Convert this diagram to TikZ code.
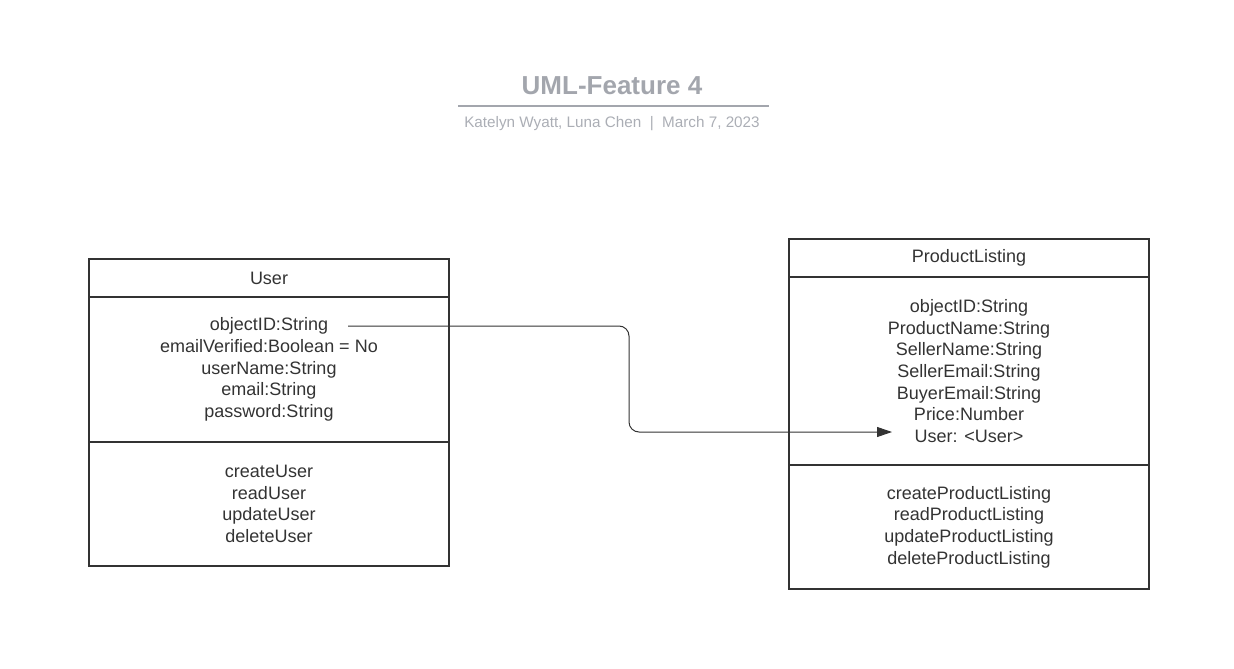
\documentclass[tikz,border=0pt]{standalone}
\usepackage{fontspec}
\setmainfont{Liberation Sans}
\usetikzlibrary{arrows.meta}
\definecolor{titlegray}{HTML}{A3A6AD}
\definecolor{subgray}{HTML}{ABAEB5}
\definecolor{umlline}{HTML}{333333}
\begin{document}
\begin{tikzpicture}[x=1pt, y=-1pt,
  cls/.style={draw=umlline, line width=1.6, minimum width=360, inner sep=0, align=center, text=umlline, font=\fontsize{18}{21.6}\selectfont},
  link/.style={draw=umlline, line width=1, rounded corners=10, -{Triangle[length=15,width=10]}}]
\useasboundingbox (0,0) rectangle (1234,669);
% title block
\node[font=\fontsize{26}{30}\selectfont\bfseries, text=titlegray] (title) at (612,86) {UML-Feature 4};
\draw[titlegray, line width=1.5] (458,106) -- (769,106);
\node[font=\fontsize{15.25}{18}\selectfont, text=subgray] (authors) at (612,123.5) {Katelyn Wyatt, Luna Chen~~|~~March 7, 2023};
% User class
\node[cls, minimum height=38] (usrname) at (269,278) {User};
\node[cls, minimum height=145] (usrattr) at (269,369.5) {objectID:String\\emailVerified:Boolean = No\\userName:String\\email:String\\password:String};
\node[cls, minimum height=124] (usrops) at (269,504) {createUser\\readUser\\updateUser\\deleteUser};
% ProductListing class
\node[cls, minimum height=38] (plname) at (969,258) {ProductListing};
\node[cls, minimum height=188] (plattr) at (969,371) {objectID:String\\ProductName:String\\SellerName:String\\SellerEmail:String\\BuyerEmail:String\\Price:Number\\User: <User>};
\node[cls, minimum height=124] (plops) at (969,527) {createProductListing\\readProductListing\\updateProductListing\\deleteProductListing};
% association
\coordinate (src) at (348,326);
\coordinate (dst) at (892,432);
\draw[link] (src) -- ++(281,0) |- (dst);
\end{tikzpicture}
\end{document}
